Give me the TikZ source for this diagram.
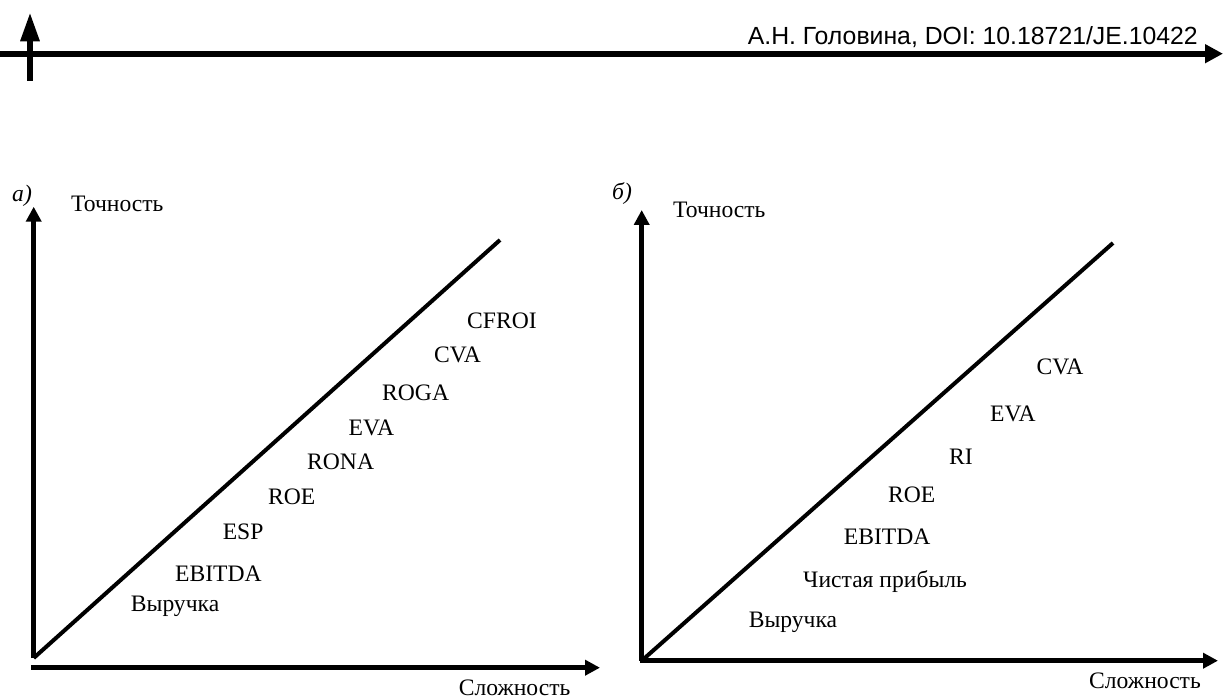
\documentclass[tikz,border=0pt]{standalone}
\usepackage{fontspec}
\setmainfont{Liberation Serif}
\newfontfamily\hdrfont{Liberation Sans}
\usetikzlibrary{arrows.meta}
\begin{document}
\begin{tikzpicture}[x=1pt,y=-1pt,
  lbl/.style={anchor=base west,inner sep=0pt,font=\fontsize{23.6}{28}\selectfont},
  panel/.style={anchor=base west,inner sep=0pt,font=\fontsize{23.6}{28}\selectfont\itshape},
  axis/.style={line width=4.5pt,-{Triangle[length=15pt,width=15pt]}},
  diag/.style={line width=4pt},
  hdr/.style={line width=6pt}]
\useasboundingbox (0,0) rectangle (1223,700);

% header
\coordinate (hL) at (0,53.7);
\coordinate (hR) at (1223,53.7);
\coordinate (hB) at (30,80.7);
\coordinate (hT) at (30,12.3);
\draw[hdr,-{Triangle[length=18pt,width=18pt]}] (hL) -- (hR);
\draw[hdr,-{Triangle[length=29pt,width=18pt]}] (hB) -- (hT);
\node[anchor=base east,inner sep=0pt,font=\hdrfont\fontsize{24.8}{29}\selectfont]
  (head) at (1198,45) {А.Н. Головина, DOI: 10.18721/JE.10422};

% panel a
\coordinate (aO) at (33.7,658);
\coordinate (aT) at (33.7,206.7);
\coordinate (aX0) at (31,667.7);
\coordinate (aX1) at (600,667.7);
\coordinate (aD) at (500,240);
\draw[axis] (aO) -- (aT);
\draw[axis] (aX0) -- (aX1);
\draw[diag] (aO) -- (aD);
\node[panel] (pa) at (12,202) {а)};
\node[lbl] (ay) at (71,211.7) {Точность};
\node[lbl] (ax) at (458.6,695) {Сложность};
\node[lbl] (a1) at (467,329) {CFROI};
\node[lbl] (a2) at (434,362.5) {CVA};
\node[lbl] (a3) at (382,400) {ROGA};
\node[lbl] (a4) at (348.5,435) {EVA};
\node[lbl] (a5) at (307,469) {RONA};
\node[lbl] (a6) at (268,504) {ROE};
\node[lbl] (a7) at (222.6,539) {ESP};
\node[lbl] (a8) at (175,581.5) {EBITDA};
\node[lbl] (a9) at (130.7,611.7) {Выручка};

% panel b
\coordinate (bO) at (641.7,660.7);
\coordinate (bT) at (641.7,210);
\coordinate (bX0) at (639.5,660.7);
\coordinate (bX1) at (1218,660.7);
\coordinate (bD) at (1113,243);
\draw[axis] (bO) -- (bT);
\draw[axis] (bX0) -- (bX1);
\draw[diag] (bO) -- (bD);
\node[panel] (pb) at (612,200) {б)};
\node[lbl] (by) at (673,217.5) {Точность};
\node[lbl] (bx) at (1089,688) {Сложность};
\node[lbl] (b1) at (1036.5,374) {CVA};
\node[lbl] (b2) at (990,421.7) {EVA};
\node[lbl] (b3) at (949,464) {RI};
\node[lbl] (b4) at (888,502.7) {ROE};
\node[lbl] (b5) at (843.7,544) {EBITDA};
\node[lbl] (b6) at (803,587.3) {Чистая прибыль};
\node[lbl] (b7) at (748.6,627.7) {Выручка};
\end{tikzpicture}
\end{document}
